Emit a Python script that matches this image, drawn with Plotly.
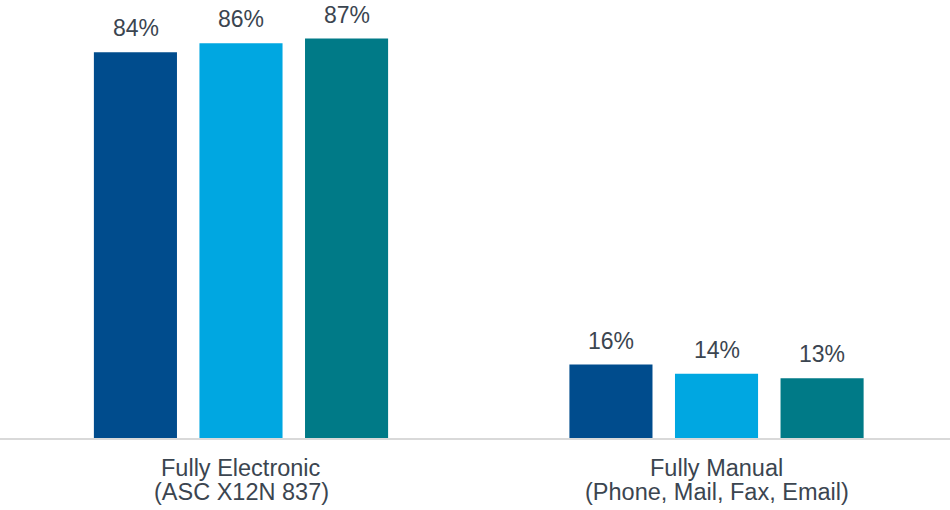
import plotly.graph_objects as go

# Share of claims by submission method, three survey years
categories = ["Fully Electronic<br>(ASC X12N 837)", "Fully Manual<br>(Phone, Mail, Fax, Email)"]
series_names = ["Year 1", "Year 2", "Year 3"]
series_values = [
    [84, 16],
    [86, 14],
    [87, 13],
]
series_colors = ["#004c8d", "#00a7e1", "#007a87"]

text_color = "#3b4550"
font_family = "Liberation Sans, Arial, sans-serif"

fig = go.Figure()
for name, vals, color in zip(series_names, series_values, series_colors):
    fig.add_trace(go.Bar(
        name=name,
        x=categories,
        y=vals,
        marker=dict(color=color, line=dict(width=0)),
        hoverinfo="skip",
    ))

# Value labels above each bar, offset horizontally to each bar in its group
slot_px = 105.5
n = len(series_values)
for i, vals in enumerate(series_values):
    offset = (i - (n - 1) / 2) * slot_px
    for cat, v in zip(categories, vals):
        fig.add_annotation(
            x=cat, y=v, xref="x", yref="y",
            text=f"{v}%", showarrow=False,
            xshift=offset, yshift=9, yanchor="bottom",
            font=dict(size=23, color=text_color, family=font_family),
        )

# Category labels below the axis, one annotation per line for tight spacing
line_shifts = [-30, -54]
for cat in categories:
    for line, shift in zip(cat.split("<br>"), line_shifts):
        fig.add_annotation(
            x=cat, y=0, xref="x", yref="paper",
            text=line, showarrow=False,
            yanchor="middle", yshift=shift,
            font=dict(size=23.5, color=text_color, family=font_family),
        )

fig.update_layout(
    width=950, height=510,
    margin=dict(l=0, r=0, t=0, b=72),
    barmode="group",
    bargap=0.334,
    bargroupgap=0.213,
    showlegend=False,
    plot_bgcolor="white",
    paper_bgcolor="white",
    font=dict(family=font_family, color=text_color),
)
fig.update_xaxes(
    range=[-0.5068, 1.491],
    showline=True, linecolor="#d9d9d9", linewidth=2,
    showgrid=False, ticks="", showticklabels=False,
)
fig.update_yaxes(
    range=[0, 95.4], visible=False, showgrid=False, zeroline=False,
)

fig.write_html("out.html")
